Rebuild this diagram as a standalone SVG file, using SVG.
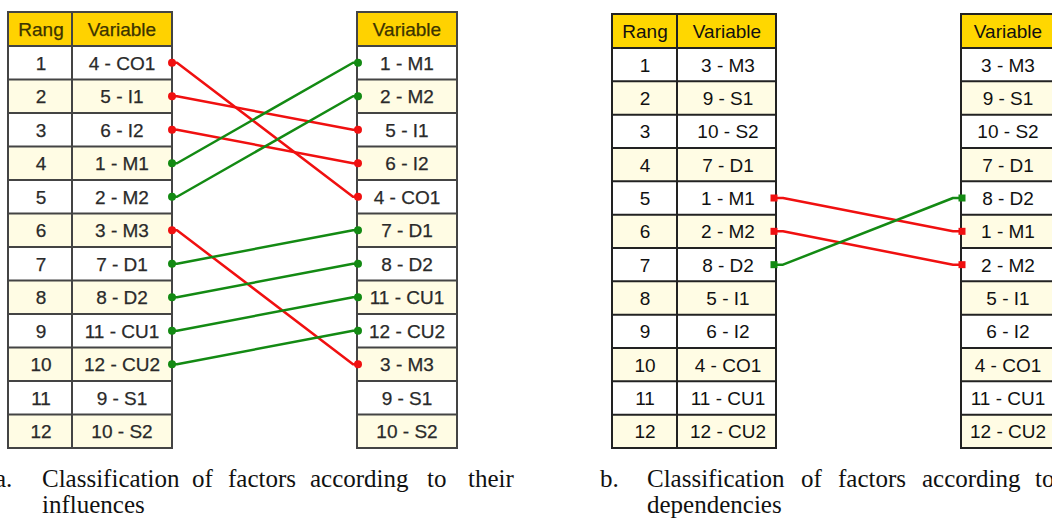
<svg xmlns="http://www.w3.org/2000/svg" width="1052" height="527" viewBox="0 0 1052 527">
<style>
.hdA{fill:#FFD200;stroke:#444;stroke-width:2}
.hdB{fill:#FFD700;stroke:#222;stroke-width:2}
.w{fill:#FFFFFF}
.y{fill:#FFFCE4}
.gridA{fill:none;stroke:#444;stroke-width:2}
.gridB{fill:none;stroke:#222;stroke-width:2}
.tA{font-family:"Liberation Sans",Arial,sans-serif;font-size:19px;fill:#2a2a2a;text-anchor:middle;stroke:#2a2a2a;stroke-width:0.25}
.tB{font-family:"Liberation Sans",Arial,sans-serif;font-size:19px;fill:#111;text-anchor:middle}
.hA{fill:#3c3400;stroke:#3c3400}
.red{fill:none;stroke:#F01010;stroke-width:2.5;stroke-linejoin:round}
.grn{fill:none;stroke:#138A13;stroke-width:2.5;stroke-linejoin:round}
.rd{fill:#F01010}
.gd{fill:#138A13}
.cap{font-family:"Liberation Serif","Times New Roman",serif;font-size:25px;fill:#111}
</style>

<!-- Part a, left table -->
<g id="table-a-left">
<rect x="8" y="12" width="164" height="34" class="hdA"/>
<rect x="8" y="46" width="164" height="33.5" class="w"/>
<rect x="8" y="79.5" width="164" height="33.5" class="y"/>
<rect x="8" y="113" width="164" height="33.5" class="w"/>
<rect x="8" y="146.5" width="164" height="33.5" class="y"/>
<rect x="8" y="180" width="164" height="33.5" class="w"/>
<rect x="8" y="213.5" width="164" height="33.5" class="y"/>
<rect x="8" y="247" width="164" height="33.5" class="w"/>
<rect x="8" y="280.5" width="164" height="33.5" class="y"/>
<rect x="8" y="314" width="164" height="33.5" class="w"/>
<rect x="8" y="347.5" width="164" height="33.5" class="y"/>
<rect x="8" y="381" width="164" height="33.5" class="w"/>
<rect x="8" y="414.5" width="164" height="33.5" class="y"/>
<path class="gridA" d="M8 12H172V448H8Z M72 12V448 M8 46H172 M8 79.5H172 M8 113H172 M8 146.5H172 M8 180H172 M8 213.5H172 M8 247H172 M8 280.5H172 M8 314H172 M8 347.5H172 M8 381H172 M8 414.5H172"/>
<text x="41" y="36" class="tA hA">Rang</text>
<text x="122" y="36" class="tA hA">Variable</text>
<g class="tA">
<text x="41" y="69.75">1</text><text x="122" y="69.75">4 - CO1</text>
<text x="41" y="103.25">2</text><text x="122" y="103.25">5 - I1</text>
<text x="41" y="136.75">3</text><text x="122" y="136.75">6 - I2</text>
<text x="41" y="170.25">4</text><text x="122" y="170.25">1 - M1</text>
<text x="41" y="203.75">5</text><text x="122" y="203.75">2 - M2</text>
<text x="41" y="237.25">6</text><text x="122" y="237.25">3 - M3</text>
<text x="41" y="270.75">7</text><text x="122" y="270.75">7 - D1</text>
<text x="41" y="304.25">8</text><text x="122" y="304.25">8 - D2</text>
<text x="41" y="337.75">9</text><text x="122" y="337.75">11 - CU1</text>
<text x="41" y="371.25">10</text><text x="122" y="371.25">12 - CU2</text>
<text x="41" y="404.75">11</text><text x="122" y="404.75">9 - S1</text>
<text x="41" y="438.25">12</text><text x="122" y="438.25">10 - S2</text>
</g>
</g>

<!-- Part a, right table -->
<g id="table-a-right">
<rect x="357" y="12" width="100" height="34" class="hdA"/>
<rect x="357" y="46" width="100" height="33.5" class="w"/>
<rect x="357" y="79.5" width="100" height="33.5" class="y"/>
<rect x="357" y="113" width="100" height="33.5" class="w"/>
<rect x="357" y="146.5" width="100" height="33.5" class="y"/>
<rect x="357" y="180" width="100" height="33.5" class="w"/>
<rect x="357" y="213.5" width="100" height="33.5" class="y"/>
<rect x="357" y="247" width="100" height="33.5" class="w"/>
<rect x="357" y="280.5" width="100" height="33.5" class="y"/>
<rect x="357" y="314" width="100" height="33.5" class="w"/>
<rect x="357" y="347.5" width="100" height="33.5" class="y"/>
<rect x="357" y="381" width="100" height="33.5" class="w"/>
<rect x="357" y="414.5" width="100" height="33.5" class="y"/>
<path class="gridA" d="M357 12H457V448H357Z M357 46H457 M357 79.5H457 M357 113H457 M357 146.5H457 M357 180H457 M357 213.5H457 M357 247H457 M357 280.5H457 M357 314H457 M357 347.5H457 M357 381H457 M357 414.5H457"/>
<text x="407" y="36" class="tA hA">Variable</text>
<g class="tA">
<text x="407" y="69.75">1 - M1</text>
<text x="407" y="103.25">2 - M2</text>
<text x="407" y="136.75">5 - I1</text>
<text x="407" y="170.25">6 - I2</text>
<text x="407" y="203.75">4 - CO1</text>
<text x="407" y="237.25">7 - D1</text>
<text x="407" y="270.75">8 - D2</text>
<text x="407" y="304.25">11 - CU1</text>
<text x="407" y="337.75">12 - CU2</text>
<text x="407" y="371.25">3 - M3</text>
<text x="407" y="404.75">9 - S1</text>
<text x="407" y="438.25">10 - S2</text>
</g>
</g>

<!-- Part b, left table -->
<g id="table-b-left">
<rect x="612" y="14" width="164" height="34" class="hdB"/>
<rect x="612" y="48" width="164" height="33.33" class="w"/>
<rect x="612" y="81.33" width="164" height="33.33" class="y"/>
<rect x="612" y="114.67" width="164" height="33.33" class="w"/>
<rect x="612" y="148" width="164" height="33.33" class="y"/>
<rect x="612" y="181.33" width="164" height="33.33" class="w"/>
<rect x="612" y="214.67" width="164" height="33.33" class="y"/>
<rect x="612" y="248" width="164" height="33.33" class="w"/>
<rect x="612" y="281.33" width="164" height="33.33" class="y"/>
<rect x="612" y="314.67" width="164" height="33.33" class="w"/>
<rect x="612" y="348" width="164" height="33.33" class="y"/>
<rect x="612" y="381.33" width="164" height="33.33" class="w"/>
<rect x="612" y="414.67" width="164" height="33.33" class="y"/>
<path class="gridB" d="M612 14H776V448H612Z M677 14V448 M612 48H776 M612 81.33H776 M612 114.67H776 M612 148H776 M612 181.33H776 M612 214.67H776 M612 248H776 M612 281.33H776 M612 314.67H776 M612 348H776 M612 381.33H776 M612 414.67H776"/>
<text x="645" y="38" class="tB">Rang</text>
<text x="727" y="38" class="tB">Variable</text>
<g class="tB">
<text x="645" y="71.67">1</text><text x="728" y="71.67">3 - M3</text>
<text x="645" y="105">2</text><text x="728" y="105">9 - S1</text>
<text x="645" y="138.33">3</text><text x="728" y="138.33">10 - S2</text>
<text x="645" y="171.67">4</text><text x="728" y="171.67">7 - D1</text>
<text x="645" y="205">5</text><text x="728" y="205">1 - M1</text>
<text x="645" y="238.33">6</text><text x="728" y="238.33">2 - M2</text>
<text x="645" y="271.67">7</text><text x="728" y="271.67">8 - D2</text>
<text x="645" y="305">8</text><text x="728" y="305">5 - I1</text>
<text x="645" y="338.33">9</text><text x="728" y="338.33">6 - I2</text>
<text x="645" y="371.67">10</text><text x="728" y="371.67">4 - CO1</text>
<text x="645" y="405">11</text><text x="728" y="405">11 - CU1</text>
<text x="645" y="438.33">12</text><text x="728" y="438.33">12 - CU2</text>
</g>
</g>

<!-- Part b, right table -->
<g id="table-b-right">
<rect x="961" y="14" width="100" height="34" class="hdB"/>
<rect x="961" y="48" width="100" height="33.33" class="w"/>
<rect x="961" y="81.33" width="100" height="33.33" class="y"/>
<rect x="961" y="114.67" width="100" height="33.33" class="w"/>
<rect x="961" y="148" width="100" height="33.33" class="y"/>
<rect x="961" y="181.33" width="100" height="33.33" class="w"/>
<rect x="961" y="214.67" width="100" height="33.33" class="y"/>
<rect x="961" y="248" width="100" height="33.33" class="w"/>
<rect x="961" y="281.33" width="100" height="33.33" class="y"/>
<rect x="961" y="314.67" width="100" height="33.33" class="w"/>
<rect x="961" y="348" width="100" height="33.33" class="y"/>
<rect x="961" y="381.33" width="100" height="33.33" class="w"/>
<rect x="961" y="414.67" width="100" height="33.33" class="y"/>
<path class="gridB" d="M961 14H1061V448H961Z M961 48H1061 M961 81.33H1061 M961 114.67H1061 M961 148H1061 M961 181.33H1061 M961 214.67H1061 M961 248H1061 M961 281.33H1061 M961 314.67H1061 M961 348H1061 M961 381.33H1061 M961 414.67H1061"/>
<text x="1008" y="38" class="tB">Variable</text>
<g class="tB">
<text x="1008" y="71.67">3 - M3</text>
<text x="1008" y="105">9 - S1</text>
<text x="1008" y="138.33">10 - S2</text>
<text x="1008" y="171.67">7 - D1</text>
<text x="1008" y="205">8 - D2</text>
<text x="1008" y="238.33">1 - M1</text>
<text x="1008" y="271.67">2 - M2</text>
<text x="1008" y="305">5 - I1</text>
<text x="1008" y="338.33">6 - I2</text>
<text x="1008" y="371.67">4 - CO1</text>
<text x="1008" y="405">11 - CU1</text>
<text x="1008" y="438.33">12 - CU2</text>
</g>
</g>

<!-- Connectors -->
<g id="connectors">
<!-- part a -->
<polyline class="red" points="172,62.75 177,62.75 353,196.75 358,196.75"/>
<polyline class="red" points="172,96.25 177,96.25 353,129.75 358,129.75"/>
<polyline class="red" points="172,129.75 177,129.75 353,163.25 358,163.25"/>
<polyline class="red" points="172,230.25 177,230.25 353,364.25 358,364.25"/>
<polyline class="grn" points="172,163.25 177,163.25 353,62.75 358,62.75"/>
<polyline class="grn" points="172,196.75 177,196.75 353,96.25 358,96.25"/>
<polyline class="grn" points="172,263.75 177,263.75 353,230.25 358,230.25"/>
<polyline class="grn" points="172,297.25 177,297.25 353,263.75 358,263.75"/>
<polyline class="grn" points="172,330.75 177,330.75 353,297.25 358,297.25"/>
<polyline class="grn" points="172,364.25 177,364.25 353,330.75 358,330.75"/>
<circle class="rd" cx="172" cy="62.75" r="4"/><circle class="rd" cx="358" cy="196.75" r="4"/>
<circle class="rd" cx="172" cy="96.25" r="4"/><circle class="rd" cx="358" cy="129.75" r="4"/>
<circle class="rd" cx="172" cy="129.75" r="4"/><circle class="rd" cx="358" cy="163.25" r="4"/>
<circle class="rd" cx="172" cy="230.25" r="4"/><circle class="rd" cx="358" cy="364.25" r="4"/>
<circle class="gd" cx="172" cy="163.25" r="4"/><circle class="gd" cx="358" cy="62.75" r="4"/>
<circle class="gd" cx="172" cy="196.75" r="4"/><circle class="gd" cx="358" cy="96.25" r="4"/>
<circle class="gd" cx="172" cy="263.75" r="4"/><circle class="gd" cx="358" cy="230.25" r="4"/>
<circle class="gd" cx="172" cy="297.25" r="4"/><circle class="gd" cx="358" cy="263.75" r="4"/>
<circle class="gd" cx="172" cy="330.75" r="4"/><circle class="gd" cx="358" cy="297.25" r="4"/>
<circle class="gd" cx="172" cy="364.25" r="4"/><circle class="gd" cx="358" cy="330.75" r="4"/>
<!-- part b -->
<polyline class="red" points="774,198 783,198 953,231.33 962,231.33"/>
<polyline class="red" points="774,231.33 783,231.33 953,264.67 962,264.67"/>
<polyline class="grn" points="774,264.67 783,264.67 953,198 962,198"/>
<rect class="rd" x="770.5" y="194.5" width="7" height="7"/><rect class="rd" x="958.5" y="227.83" width="7" height="7"/>
<rect class="rd" x="770.5" y="227.83" width="7" height="7"/><rect class="rd" x="958.5" y="261.17" width="7" height="7"/>
<rect class="gd" x="770.5" y="261.17" width="7" height="7"/><rect class="gd" x="958.5" y="194.5" width="7" height="7"/>
</g>

<!-- Captions -->
<g id="captions" class="cap">
<text x="-5" y="487">a.</text>
<text x="42" y="487">Classification</text>
<text x="192" y="487">of</text>
<text x="228" y="487">factors</text>
<text x="310" y="487">according</text>
<text x="427" y="487">to</text>
<text x="468" y="487">their</text>
<text x="42" y="513">influences</text>
<text x="600" y="487">b.</text>
<text x="647" y="487">Classification</text>
<text x="801" y="487">of</text>
<text x="838" y="487">factors</text>
<text x="922" y="487">according</text>
<text x="1035" y="487">to</text>
<text x="647" y="513">dependencies</text>
</g>
</svg>
